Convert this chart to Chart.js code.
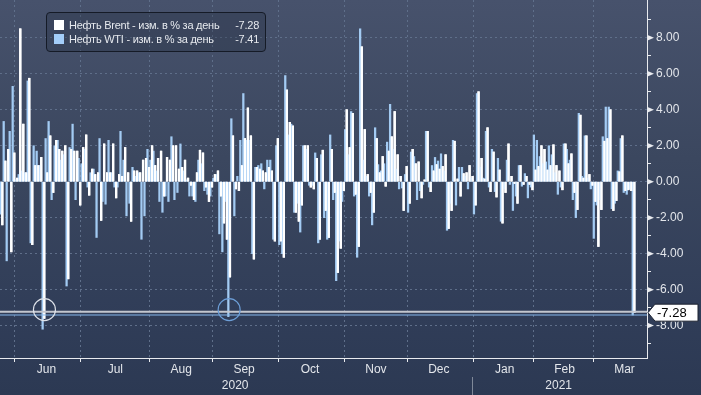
<!DOCTYPE html>
<html>
<head>
<meta charset="utf-8">
<script src="https://cdn.jsdelivr.net/npm/chart.js@4.4.0/dist/chart.umd.min.js"></script>
<style>
  html, body { margin: 0; padding: 0; }
  body {
    width: 701px; height: 395px; overflow: hidden;
    background: linear-gradient(to bottom, #47526c 0%, #3b475f 40%, #303d58 80%, #2c3953 100%);
    font-family: 'Liberation Sans', Arial, sans-serif;
  }
  #wrap { position: relative; width: 701px; height: 395px; }
  #legend {
    position: absolute; left: 46px; top: 12px; width: 218px; height: 38px;
    border: 1px solid #151b27; border-radius: 4px; background: rgba(34, 43, 61, 0.3);
    color: #e6e9ee; font-size: 11px; letter-spacing: -0.25px;
  }
  .row { position: absolute; left: 7px; right: 6px; height: 13px; line-height: 13px; }
  .sw { position: absolute; left: 0; top: 1px; width: 10px; height: 10px; }
  .lab { position: absolute; left: 15px; white-space: nowrap; }
  .val { position: absolute; right: 0; }
</style>
</head>
<body>
<div id="wrap">
  <canvas id="chart" width="701" height="395"></canvas>
  <div id="legend">
    <div class="row" style="top:6px"><span class="sw" style="background:#ffffff"></span><span class="lab" id="l0"></span><span class="val" id="v0"></span></div>
    <div class="row" style="top:20px"><span class="sw" style="background:#a3cdf8"></span><span class="lab" id="l1"></span><span class="val" id="v1"></span></div>
  </div>
</div>
<script>
// дневные изменения, %
var brent = [
 -2.4, 1.15, 1.8, -3.9, 1.6, 0.2, 8.5, 3.2, 0.5, 5.75, -3.5, 0.9, 0.9, 1.35, -7.6,
 0.5, 2.55, -0.6, 2.3, 1.8, 1.7, 2.0, -5.4, 1.8, 1.7, 1.7, -1.3, 1.9, 2.6, -0.75,
 0.7, 0.4, 0.5, -2.15, 2.1, 0.5, 0.5, 2.1, -0.9, 0.4, 0.3, 1.9, 0.5, -2.2, 0.6,
 0.6, 0.5, 1.2, 1.3, 0.8, 2.0, 0.9, 1.3, 1.7, -0.8, 1.35, 1.2, 2.0, 2.0, 0.7,
 0.8, 1.2, 0.2, -0.2, -1.0, 0.5, 1.75, 1.6, -0.3, -1.1, -0.3, 0.4, 0.6, -0.8, -2.3,
 -3.2, -5.3, 2.55, -0.4, -0.5, 0.9, 2.4, 4.1, 2.55, -4.3, 0.8, 0.7, 0.6, 0.5, 0.8,
 0.6, -3.3, 2.4, -3.3, -4.2, 5.1, 3.3, 3.1, -1.7, -2.2, -1.3, 2.0, 2.0, -0.3, -0.4,
 1.3, -3.2, 1.75, -1.6, -3.1, 1.8, -0.6, -5.05, -3.7, -0.5, 4.0, 1.9, 3.8, -0.7, -3.6,
 7.5, 2.9, 0.4, -0.6, -1.7, 2.4, 0.5, 1.4, -0.25, 1.7, 2.5, 3.9, 1.5, 0.3, -1.6,
 0.85, -1.2, 1.8, 1.0, 1.1, -0.9, 0.1, 2.8, -0.55, 0.6, 0.95, 0.7, 0.85, 1.5, -2.6,
 -1.6, 2.25, 0.15, -0.8, 0.45, 0.5, 0.9, 0.3, -1.3, 5.0, 1.3, 0.15, 3.0, -0.55, 1.65,
 -0.85, 0.65, -2.3, -0.6, 2.1, 0.3, -0.1, -1.2, 0.9, -0.15, 0.3, -0.15, -0.45, 0.65, 0.85,
 2.0, 1.8, 0.65, 0.9, 2.05, 0.9, 0.6, -0.45, 2.1, 1.0, 1.55, -0.6, -1.55, 3.7, 0.2,
 2.55, 0.4, -0.2, -1.1, -3.6, -1.55, 2.25, 2.4, 4.0, -1.6, -1.05, 0.55, 2.55, -0.5, -0.45,
 -0.5, -7.28
];
var wti = [
 -1.8, 3.35, -4.4, 2.8, 5.3, 0.1, 0.4, 0.6, 0.5, 5.6, -3.4, 2.0, 1.7, 0.9, -8.2,
 2.4, 3.35, -1.0, 2.0, 2.3, 1.2, 1.5, -5.8, 1.9, 3.2, -1.0, 1.3, 1.0, 1.8, -0.3,
 0.5, 0.7, -3.1, 2.4, -1.1, -1.25, 2.3, 0.5, -0.3, -0.3, 2.8, 1.2, -1.9, -1.2, 0.8,
 0.3, 0.5, -3.2, -1.9, 1.8, 1.2, 1.7, 0.6, -1.1, -1.7, -0.8, -1.1, 2.5, -1.0, -0.6,
 2.1, 0.6, 0.1, -0.8, -0.8, -1.1, 1.2, 1.0, -0.5, -0.7, -0.8, 0.2, 0.4, -2.9, -3.9,
 -1.1, -7.5, 3.5, -1.9, 0.3, 2.3, 4.9, 2.3, 2.3, -4.0, 0.8, 0.9, 1.0, -0.4, 1.2,
 1.2, -3.2, 2.0, -3.5, -4.0, 5.9, 2.6, 3.2, -1.7, -1.2, -2.8, 2.0, 1.8, -0.2, -0.2,
 1.6, -3.4, 1.5, -2.0, -3.2, 2.6, -1.0, -5.5, -3.3, -1.1, 2.9, 1.5, 3.9, -0.8, -4.2,
 8.5, 1.2, 0.3, -0.8, -2.4, 3.0, 0.95, 0.6, 1.0, 2.2, 4.3, 1.8, 0.7, -0.4, -0.35,
 0.4, -1.7, 1.65, 1.4, -1.0, -0.5, -0.15, 2.8, -0.3, 0.9, 1.35, 1.15, 1.55, 0.6, -2.7,
 -1.2, 2.3, -1.3, 0.8, 0.8, 0.3, -0.4, 0.2, -1.8, 4.9, 0.8, 0.2, 2.8, -0.3, 1.8,
 -0.55, 1.3, -2.2, -0.4, 1.2, -0.15, -1.6, -0.8, 0.9, -0.25, 0.45, -0.9, -0.3, 2.6, 2.3,
 1.4, 1.0, 1.1, 2.0, 1.5, 0.5, -0.7, -0.3, 2.1, 1.8, 1.2, -1.0, -2.0, 3.8, 0.3,
 2.55, 0.2, -0.4, -3.15, -1.3, -1.0, 2.5, 4.15, 4.15, -1.5, -1.2, 0.6, 2.4, -0.6, -0.7,
 -0.4, -7.41
];
var seriesNames = ['Нефть Brent - изм. в % за день', 'Нефть WTI - изм. в % за день'];
var monthNames = ['Jan','Feb','Mar','Apr','May','Jun','Jul','Aug','Sep','Oct','Nov','Dec'];
var holidays = ['2020-12-25', '2021-01-01'];
var firstDay = '2020-05-25', lastSlot = '2021-03-24';

// торговые дни (будни) + несколько пустых слотов справа
var days = [];
for (var t = Date.parse(firstDay); t <= Date.parse(lastSlot); t += 86400000) {
  var dt = new Date(t), wd = dt.getUTCDay(), iso = dt.toISOString().slice(0, 10);
  if (wd > 0 && wd < 6 && holidays.indexOf(iso) < 0) days.push(iso);
}

var lastBrent = brent[brent.length - 1], lastWti = wti[wti.length - 1];
document.getElementById('l0').textContent = seriesNames[0];
document.getElementById('l1').textContent = seriesNames[1];
document.getElementById('v0').textContent = lastBrent.toFixed(2);
document.getElementById('v1').textContent = lastWti.toFixed(2);

// начала месяцев, подписи месяцев и лет
var monthStart = {}, monthLabel = {}, yearLabel = {}, yearStartIdx = null;
var spans = [], yspans = [];
days.forEach(function (d, i) {
  var m = d.slice(0, 7), yr = d.slice(0, 4);
  if (!spans.length || spans[spans.length - 1].key !== m) spans.push({ key: m, s: i, e: i }); else spans[spans.length - 1].e = i;
  if (!yspans.length || yspans[yspans.length - 1].key !== yr) yspans.push({ key: yr, s: i, e: i }); else yspans[yspans.length - 1].e = i;
});
spans.forEach(function (sp, k) {
  if (sp.s > 0) monthStart[sp.s] = true;
  var e = Math.max(sp.e, sp.s + 21);
  if (k > 0) monthLabel[Math.floor((sp.s + e) / 2)] = monthNames[+sp.key.slice(5, 7) - 1];
});
yspans.forEach(function (sp, k) {
  yearLabel[Math.floor((sp.s + sp.e) / 2)] = sp.key;
  if (k > 0) yearStartIdx = sp.s;
});

function lastCross(arr, lvl) {
  for (var i = arr.length - 2; i >= 0; i--) if (arr[i] <= lvl) return i;
  return -1;
}

var GRID = '#5f6f8a', AXIS = '#e9ebef', TXT = '#e3e6eb';
var NONE = 'rgba(0,0,0,0)';

var overlay = {
  id: 'overlay',
  afterDatasetsDraw: function (chart) {
    var ctx = chart.ctx, a = chart.chartArea, x = chart.scales.x, y = chart.scales.y;
    // белые столбцы Brent поверх голубых
    ctx.save();
    ctx.beginPath(); ctx.rect(a.left, a.top, a.right - a.left, a.bottom - a.top); ctx.clip();
    chart.getDatasetMeta(0).controller.draw();
    var yb = y.getPixelForValue(lastBrent), yw = y.getPixelForValue(lastWti);
    ctx.strokeStyle = '#c3c7cf'; ctx.lineWidth = 2;
    ctx.beginPath(); ctx.moveTo(a.left, yb - 1); ctx.lineTo(a.right, yb - 1); ctx.stroke();
    ctx.strokeStyle = '#86b8ec'; ctx.lineWidth = 1.2;
    ctx.beginPath(); ctx.moveTo(a.left, yw); ctx.lineTo(a.right, yw); ctx.stroke();
    var ib = lastCross(brent, lastBrent), iw = lastCross(wti, lastWti);
    ctx.lineWidth = 1.2;
    if (ib >= 0) {
      ctx.strokeStyle = '#dfe3ea';
      ctx.beginPath(); ctx.arc(x.getPixelForValue(ib) + 1, yb - 3, 11, 0, Math.PI * 2); ctx.stroke();
    }
    if (iw >= 0) {
      ctx.strokeStyle = '#6d9fd8';
      ctx.beginPath(); ctx.arc(x.getPixelForValue(iw), yb - 3, 11, 0, Math.PI * 2); ctx.stroke();
    }
    ctx.restore();
  },
  afterDraw: function (chart) {
    var ctx = chart.ctx, a = chart.chartArea, x = chart.scales.x, y = chart.scales.y;
    ctx.save();
    // треугольные метки на правой оси
    ctx.fillStyle = AXIS;
    y.ticks.forEach(function (t) {
      if (t.value % 2 !== 0) return;
      var py = y.getPixelForValue(t.value);
      ctx.beginPath(); ctx.moveTo(a.right, py - 3); ctx.lineTo(a.right + 7, py); ctx.lineTo(a.right, py + 3); ctx.closePath(); ctx.fill();
    });
    // разделитель лет
    if (yearStartIdx !== null) {
      var px = Math.round((x.getPixelForValue(yearStartIdx - 1) + x.getPixelForValue(yearStartIdx)) / 2) - 0.5;
      ctx.strokeStyle = '#7f8898'; ctx.lineWidth = 1;
      ctx.beginPath(); ctx.moveTo(px, chart.scales.x2.top); ctx.lineTo(px, chart.height); ctx.stroke();
    }
    // плашка последнего значения
    var yb = y.getPixelForValue(lastBrent), L = a.right + 1, h = 8.5;
    ctx.fillStyle = '#ffffff'; ctx.strokeStyle = '#1c2230'; ctx.lineWidth = 1;
    ctx.beginPath();
    ctx.moveTo(L, yb); ctx.lineTo(L + 7, yb - h); ctx.lineTo(698, yb - h); ctx.lineTo(698, yb + h); ctx.lineTo(L + 7, yb + h); ctx.closePath();
    ctx.fill(); ctx.stroke();
    ctx.fillStyle = '#000000'; ctx.font = '13px "Liberation Sans", Arial, sans-serif';
    ctx.textBaseline = 'middle'; ctx.textAlign = 'left';
    ctx.fillText(lastBrent.toFixed(2), L + 9, yb + 1);
    ctx.restore();
  }
};

Chart.defaults.font.family = "'Liberation Sans', Arial, sans-serif";
Chart.defaults.font.size = 12;
Chart.defaults.color = TXT;

new Chart(document.getElementById('chart'), {
  type: 'bar',
  data: {
    labels: days,
    datasets: [
      { label: seriesNames[0], data: brent, backgroundColor: '#ffffff', barThickness: 1.6, order: 1, xAxisID: 'x', yAxisID: 'y' },
      { label: seriesNames[1], data: wti, backgroundColor: '#a3cbf3', barThickness: 1.6, order: 0, xAxisID: 'x', yAxisID: 'y' }
    ]
  },
  options: {
    responsive: false,
    animation: false,
    devicePixelRatio: 1,
    layout: { padding: 0 },
    plugins: { legend: { display: false }, tooltip: { enabled: false } },
    scales: {
      x: {
        type: 'category', position: 'bottom', offset: true,
        grid: {
          offset: true, drawOnChartArea: true, drawTicks: true, tickLength: 4,
          color: function (c) { return monthStart[c.index] ? GRID : NONE; },
          tickColor: function (c) { return monthStart[c.index] ? AXIS : NONE; }
        },
        border: { display: true, color: AXIS, width: 1, dash: [2, 3] },
        ticks: {
          autoSkip: false, maxRotation: 0, minRotation: 0, padding: 0, color: TXT,
          callback: function (v, i) { return monthLabel[i] || ''; }
        },
        afterFit: function (s) { s.height = 19; }
      },
      x2: {
        type: 'category', position: 'bottom', offset: true,
        grid: { display: false, drawOnChartArea: false, drawTicks: false },
        border: { display: false },
        ticks: {
          autoSkip: false, maxRotation: 0, minRotation: 0, padding: 1, color: TXT,
          callback: function (v, i) { return yearLabel[i] || ''; }
        },
        afterFit: function (s) { s.height = 18; }
      },
      y: {
        type: 'linear', position: 'right', min: -9.8, max: 10.1,
        grid: {
          drawTicks: true, tickLength: 4,
          color: function (c) { return c.tick && c.tick.value % 2 === 0 ? GRID : NONE; },
          tickColor: AXIS
        },
        border: { display: true, color: AXIS, width: 1, dash: [2, 3] },
        ticks: {
          stepSize: 1, padding: 5, color: TXT,
          callback: function (v) {
            if (v >= 10) return null;
            return v % 2 === 0 ? v.toFixed(2) : '';
          }
        },
        afterBuildTicks: function (s) { s.ticks = s.ticks.filter(function (t) { return Number.isInteger(t.value); }); },
        afterFit: function (s) { s.width = 54; s.paddingTop = 0; }
      }
    }
  },
  plugins: [overlay]
});
</script>
</body>
</html>
